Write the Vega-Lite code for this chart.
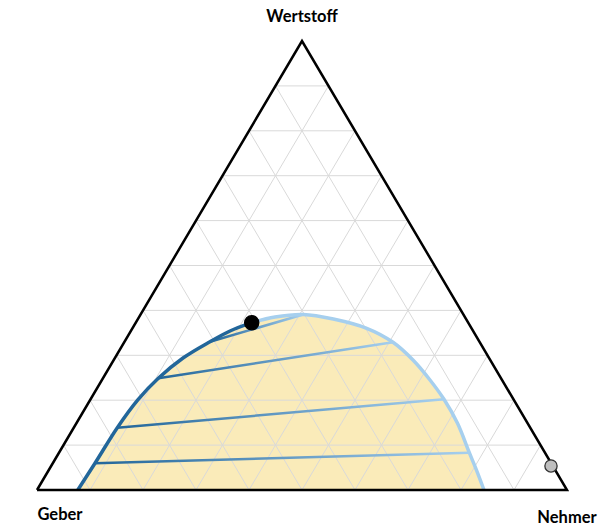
{
  "$schema": "https://vega.github.io/schema/vega-lite/v6.json",
  "width": 530,
  "height": 449,
  "autosize": {"type": "none"},
  "padding": {"left": 37, "top": 41, "right": 47, "bottom": 38},
  "background": "white",
  "config": {"view": {"stroke": null}},
  "datasets": {
    "all": [
      {"x": 0.0770, "y": 0.0},
      {"x": 0.1094, "y": 0.0595},
      {"x": 0.1515, "y": 0.1388},
      {"x": 0.1906, "y": 0.2013},
      {"x": 0.2289, "y": 0.2488},
      {"x": 0.2755, "y": 0.2940},
      {"x": 0.3264, "y": 0.3303},
      {"x": 0.3642, "y": 0.3541},
      {"x": 0.4051, "y": 0.3726},
      {"x": 0.4491, "y": 0.3853},
      {"x": 0.5025, "y": 0.3909},
      {"x": 0.5591, "y": 0.3808},
      {"x": 0.6221, "y": 0.3601},
      {"x": 0.6717, "y": 0.3290},
      {"x": 0.7094, "y": 0.2895},
      {"x": 0.7415, "y": 0.2450},
      {"x": 0.7679, "y": 0.2020},
      {"x": 0.7934, "y": 0.1486},
      {"x": 0.8157, "y": 0.0831},
      {"x": 0.8292, "y": 0.0445},
      {"x": 0.8434, "y": 0.0}
    ],
    "left": [
      {"x": 0.0770, "y": 0.0},
      {"x": 0.1094, "y": 0.0595},
      {"x": 0.1515, "y": 0.1388},
      {"x": 0.1906, "y": 0.2013},
      {"x": 0.2289, "y": 0.2488},
      {"x": 0.2755, "y": 0.2940},
      {"x": 0.3264, "y": 0.3303},
      {"x": 0.3642, "y": 0.3541},
      {"x": 0.4051, "y": 0.3726}
    ],
    "right": [
      {"x": 0.4051, "y": 0.3726},
      {"x": 0.4491, "y": 0.3853},
      {"x": 0.5025, "y": 0.3909},
      {"x": 0.5591, "y": 0.3808},
      {"x": 0.6221, "y": 0.3601},
      {"x": 0.6717, "y": 0.3290},
      {"x": 0.7094, "y": 0.2895},
      {"x": 0.7415, "y": 0.2450},
      {"x": 0.7679, "y": 0.2020},
      {"x": 0.7934, "y": 0.1486},
      {"x": 0.8157, "y": 0.0831},
      {"x": 0.8292, "y": 0.0445},
      {"x": 0.8434, "y": 0.0}
    ],
    "ties": [
      {"tie": 1, "x": 0.1094, "y": 0.0595},
      {"tie": 1, "x": 0.8157, "y": 0.0831},
      {"tie": 2, "x": 0.1515, "y": 0.1388},
      {"tie": 2, "x": 0.7679, "y": 0.2020},
      {"tie": 3, "x": 0.2289, "y": 0.2488},
      {"tie": 3, "x": 0.6717, "y": 0.3290},
      {"tie": 4, "x": 0.3264, "y": 0.3303},
      {"tie": 4, "x": 0.5025, "y": 0.3909}
    ],
    "grid": [
      {"x": 0.05, "y": 0.1, "x2": 0.95, "y2": 0.1},
      {"x": 0.1, "y": 0.2, "x2": 0.9, "y2": 0.2},
      {"x": 0.15, "y": 0.3, "x2": 0.85, "y2": 0.3},
      {"x": 0.2, "y": 0.4, "x2": 0.8, "y2": 0.4},
      {"x": 0.25, "y": 0.5, "x2": 0.75, "y2": 0.5},
      {"x": 0.3, "y": 0.6, "x2": 0.7, "y2": 0.6},
      {"x": 0.35, "y": 0.7, "x2": 0.65, "y2": 0.7},
      {"x": 0.4, "y": 0.8, "x2": 0.6, "y2": 0.8},
      {"x": 0.45, "y": 0.9, "x2": 0.55, "y2": 0.9},
      {"x": 0.1, "y": 0, "x2": 0.55, "y2": 0.9},
      {"x": 0.2, "y": 0, "x2": 0.6, "y2": 0.8},
      {"x": 0.3, "y": 0, "x2": 0.65, "y2": 0.7},
      {"x": 0.4, "y": 0, "x2": 0.7, "y2": 0.6},
      {"x": 0.5, "y": 0, "x2": 0.75, "y2": 0.5},
      {"x": 0.6, "y": 0, "x2": 0.8, "y2": 0.4},
      {"x": 0.7, "y": 0, "x2": 0.85, "y2": 0.3},
      {"x": 0.8, "y": 0, "x2": 0.9, "y2": 0.2},
      {"x": 0.9, "y": 0, "x2": 0.95, "y2": 0.1},
      {"x": 0.9, "y": 0, "x2": 0.45, "y2": 0.9},
      {"x": 0.8, "y": 0, "x2": 0.4, "y2": 0.8},
      {"x": 0.7, "y": 0, "x2": 0.35, "y2": 0.7},
      {"x": 0.6, "y": 0, "x2": 0.3, "y2": 0.6},
      {"x": 0.5, "y": 0, "x2": 0.25, "y2": 0.5},
      {"x": 0.4, "y": 0, "x2": 0.2, "y2": 0.4},
      {"x": 0.3, "y": 0, "x2": 0.15, "y2": 0.3},
      {"x": 0.2, "y": 0, "x2": 0.1, "y2": 0.2},
      {"x": 0.1, "y": 0, "x2": 0.05, "y2": 0.1}
    ],
    "triangle": [
      {"i": 0, "x": 0, "y": 0},
      {"i": 1, "x": 1, "y": 0},
      {"i": 2, "x": 0.5, "y": 1},
      {"i": 3, "x": 0, "y": 0}
    ],
    "points": [
      {"name": "Plait", "x": 0.4051, "y": 0.3726},
      {"name": "Feed", "x": 0.9698, "y": 0.0535}
    ],
    "labels": [
      {"label": "Wertstoff", "x": 0.5, "y": 1.053},
      {"label": "Geber", "x": 0.0434, "y": -0.0557},
      {"label": "Nehmer", "x": 1.0, "y": -0.0624}
    ]
  },
  "layer": [
    {
      "data": {"name": "all"},
      "mark": {"type": "area", "interpolate": "catmull-rom", "fill": "#faebb9"},
      "encoding": {
        "x": {"field": "x", "type": "quantitative", "scale": {"domain": [0, 1], "nice": false, "zero": false}, "axis": null},
        "y": {"field": "y", "type": "quantitative", "scale": {"domain": [0, 1], "nice": false, "zero": false}, "axis": null},
        "y2": {"datum": 0}
      }
    },
    {
      "data": {"name": "grid"},
      "mark": {"type": "rule", "stroke": "#d9d9d9", "strokeWidth": 1},
      "encoding": {
        "x": {"field": "x", "type": "quantitative"},
        "y": {"field": "y", "type": "quantitative"},
        "x2": {"field": "x2"},
        "y2": {"field": "y2"}
      }
    },
    {
      "data": {"name": "ties"},
      "mark": {
        "type": "line",
        "strokeWidth": 2.5,
        "stroke": {
          "gradient": "linear",
          "x1": 0, "y1": 0, "x2": 1, "y2": 0,
          "stops": [
            {"offset": 0, "color": "#22669a"},
            {"offset": 1, "color": "#a6cfee"}
          ]
        }
      },
      "encoding": {
        "x": {"field": "x", "type": "quantitative"},
        "y": {"field": "y", "type": "quantitative"},
        "detail": {"field": "tie", "type": "nominal"}
      }
    },
    {
      "data": {"name": "right"},
      "mark": {"type": "line", "interpolate": "catmull-rom", "stroke": "#a6cfee", "strokeWidth": 3.5},
      "encoding": {
        "x": {"field": "x", "type": "quantitative"},
        "y": {"field": "y", "type": "quantitative"}
      }
    },
    {
      "data": {"name": "left"},
      "mark": {"type": "line", "interpolate": "catmull-rom", "stroke": "#22669a", "strokeWidth": 3.5},
      "encoding": {
        "x": {"field": "x", "type": "quantitative"},
        "y": {"field": "y", "type": "quantitative"}
      }
    },
    {
      "data": {"name": "triangle"},
      "mark": {"type": "line", "stroke": "black", "strokeWidth": 2.5, "strokeJoin": "miter"},
      "encoding": {
        "x": {"field": "x", "type": "quantitative"},
        "y": {"field": "y", "type": "quantitative"},
        "order": {"field": "i", "type": "quantitative"}
      }
    },
    {
      "data": {"name": "points"},
      "mark": {"type": "point", "filled": true, "opacity": 1, "strokeWidth": 1.3},
      "encoding": {
        "x": {"field": "x", "type": "quantitative"},
        "y": {"field": "y", "type": "quantitative"},
        "fill": {"field": "name", "type": "nominal", "scale": {"domain": ["Plait", "Feed"], "range": ["#000000", "#bfbfbf"]}, "legend": null},
        "stroke": {"field": "name", "type": "nominal", "scale": {"domain": ["Plait", "Feed"], "range": ["#000000", "#333333"]}, "legend": null},
        "size": {"field": "name", "type": "nominal", "scale": {"domain": ["Plait", "Feed"], "range": [200, 150]}, "legend": null}
      }
    },
    {
      "data": {"name": "labels"},
      "mark": {"type": "text", "font": "Lato", "fontWeight": "bold", "fontSize": 16.5, "fill": "#000000"},
      "encoding": {
        "x": {"field": "x", "type": "quantitative"},
        "y": {"field": "y", "type": "quantitative"},
        "text": {"field": "label"}
      }
    }
  ]
}
